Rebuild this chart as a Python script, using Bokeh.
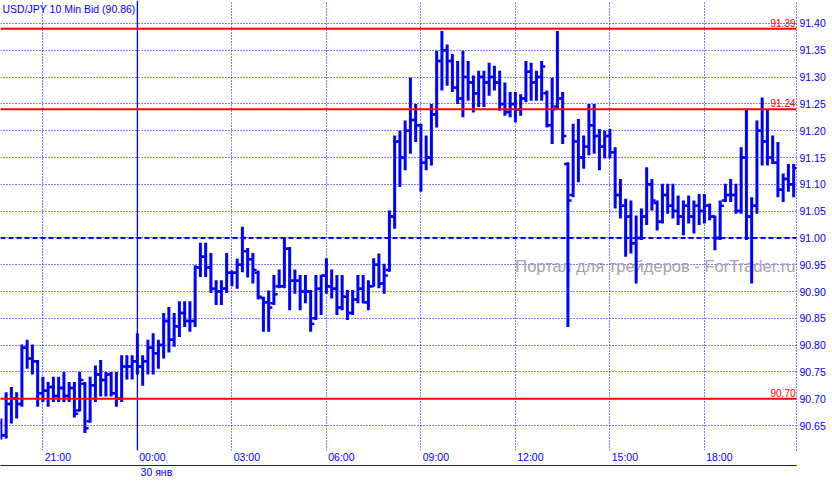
from bokeh.plotting import figure
from bokeh.models import (Range1d, LinearAxis, FixedTicker, Span, Label,
                          ColumnDataSource, NumeralTickFormatter)
from bokeh.transform import dodge
from bokeh.embed import file_html
from bokeh.resources import INLINE

# ---- data: USD/JPY 10-minute bars, 29 Jan 19:40 .. 30 Jan 20:50 ----
highs = [90.663, 90.712, 90.722, 90.712, 90.801, 90.810, 90.801, 90.772, 90.741, 90.731,
         90.741, 90.741, 90.750, 90.731, 90.731, 90.750, 90.731, 90.741, 90.762, 90.772,
         90.750, 90.750, 90.750, 90.781, 90.781, 90.781, 90.822, 90.781, 90.810, 90.822,
         90.810, 90.860, 90.871, 90.860, 90.882, 90.882, 90.882, 90.949, 90.991, 90.991,
         90.972, 90.921, 90.921, 90.972, 90.939, 90.961, 91.021, 90.981, 90.972, 90.939,
         90.890, 90.902, 90.931, 90.941, 90.999, 90.983, 90.941, 90.931, 90.931, 90.903,
         90.931, 90.931, 90.962, 90.941, 90.931, 90.931, 90.903, 90.903, 90.931, 90.931,
         90.921, 90.962, 90.971, 90.952, 91.051, 91.191, 91.200, 91.219, 91.299, 91.250,
         91.213, 91.191, 91.250, 91.349, 91.386, 91.361, 91.343, 91.330, 91.349, 91.330,
         91.303, 91.312, 91.312, 91.327, 91.321, 91.312, 91.290, 91.272, 91.272, 91.268,
         91.330, 91.327, 91.312, 91.330, 91.275, 91.299, 91.386, 91.272, 91.141, 91.213,
         91.222, 91.191, 91.250, 91.250, 91.203, 91.200, 91.203, 91.169, 91.110, 91.073,
         91.070, 91.042, 91.055, 91.132, 91.110, 91.070, 91.101, 91.101, 91.101, 91.079,
         91.070, 91.079, 91.070, 91.082, 91.082, 91.064, 91.042, 91.070, 91.101, 91.110,
         91.101, 91.169, 91.241, 91.076, 91.219, 91.262, 91.241, 91.191, 91.179, 91.120,
         91.138, 91.138]
lows = [90.624, 90.626, 90.654, 90.663, 90.685, 90.756, 90.745, 90.685, 90.694, 90.685,
        90.694, 90.694, 90.694, 90.694, 90.665, 90.676, 90.636, 90.655, 90.694, 90.704,
        90.704, 90.704, 90.685, 90.694, 90.736, 90.736, 90.745, 90.724, 90.745, 90.745,
        90.756, 90.775, 90.786, 90.797, 90.815, 90.834, 90.825, 90.834, 90.927, 90.927,
        90.897, 90.875, 90.875, 90.897, 90.910, 90.905, 90.936, 90.926, 90.915, 90.885,
        90.825, 90.825, 90.875, 90.906, 90.906, 90.865, 90.896, 90.865, 90.878, 90.825,
        90.847, 90.856, 90.896, 90.887, 90.856, 90.865, 90.847, 90.856, 90.878, 90.878,
        90.865, 90.909, 90.906, 90.896, 90.937, 91.017, 91.095, 91.126, 91.157, 91.179,
        91.086, 91.126, 91.135, 91.206, 91.275, 91.284, 91.272, 91.250, 91.225, 91.256,
        91.234, 91.244, 91.244, 91.265, 91.275, 91.237, 91.228, 91.225, 91.216, 91.228,
        91.253, 91.256, 91.256, 91.256, 91.206, 91.175, 91.241, 91.175, 90.834, 91.076,
        91.104, 91.129, 91.154, 91.157, 91.126, 91.148, 91.148, 91.055, 91.036, 90.965,
        90.971, 90.915, 90.996, 91.024, 91.051, 91.014, 91.027, 91.045, 91.036, 91.024,
        91.005, 91.027, 91.008, 91.024, 91.027, 91.033, 90.977, 90.996, 91.067, 91.067,
        91.045, 91.045, 90.996, 90.915, 91.045, 91.135, 91.135, 91.138, 91.076, 91.067,
        91.086, 91.076]
opens = [90.655, 90.632, 90.690, 90.700, 90.690, 90.795, 90.775, 90.770, 90.710, 90.715,
         90.722, 90.705, 90.720, 90.705, 90.720, 90.678, 90.728, 90.658, 90.725, 90.745,
         90.735, 90.745, 90.710, 90.700, 90.760, 90.760, 90.770, 90.760, 90.770, 90.795,
         90.785, 90.800, 90.845, 90.810, 90.835, 90.860, 90.845, 90.845, 90.945, 90.965,
         90.945, 90.905, 90.900, 90.905, 90.935, 90.935, 90.950, 90.975, 90.960, 90.935,
         90.888, 90.880, 90.878, 90.910, 90.910, 90.980, 90.920, 90.920, 90.900, 90.900,
         90.850, 90.905, 90.930, 90.910, 90.905, 90.870, 90.890, 90.860, 90.885, 90.905,
         90.880, 90.910, 90.950, 90.915, 90.940, 91.040, 91.180, 91.150, 91.200, 91.220,
         91.210, 91.140, 91.150, 91.230, 91.330, 91.350, 91.330, 91.280, 91.260, 91.300,
         91.290, 91.270, 91.300, 91.290, 91.300, 91.290, 91.250, 91.235, 91.250, 91.240,
         91.260, 91.310, 91.290, 91.300, 91.270, 91.210, 91.245, 91.260, 91.138, 91.080,
         91.180, 91.150, 91.170, 91.210, 91.190, 91.170, 91.190, 91.160, 91.080, 91.060,
         91.040, 90.990, 91.000, 91.040, 91.100, 91.065, 91.030, 91.080, 91.060, 91.050,
         91.040, 91.060, 91.040, 91.060, 91.050, 91.060, 91.040, 91.000, 91.070, 91.080,
         91.080, 91.050, 91.150, 91.040, 91.060, 91.200, 91.180, 91.150, 91.140, 91.090,
         91.110, 91.100]
closes = [90.632, 90.690, 90.700, 90.690, 90.795, 90.775, 90.770, 90.710, 90.715, 90.722,
          90.705, 90.720, 90.705, 90.720, 90.672, 90.735, 90.645, 90.725, 90.745, 90.735,
          90.745, 90.710, 90.700, 90.760, 90.760, 90.770, 90.760, 90.770, 90.795, 90.785,
          90.800, 90.845, 90.810, 90.835, 90.860, 90.845, 90.845, 90.945, 90.965, 90.945,
          90.905, 90.900, 90.905, 90.935, 90.935, 90.950, 91.000, 90.960, 90.940, 90.890,
          90.880, 90.870, 90.895, 90.910, 90.980, 90.920, 90.920, 90.900, 90.900, 90.840,
          90.905, 90.930, 90.910, 90.905, 90.870, 90.890, 90.860, 90.885, 90.905, 90.880,
          90.910, 90.950, 90.915, 90.930, 91.040, 91.180, 91.150, 91.200, 91.220, 91.210,
          91.140, 91.150, 91.230, 91.330, 91.350, 91.330, 91.280, 91.260, 91.300, 91.290,
          91.270, 91.300, 91.290, 91.300, 91.290, 91.250, 91.235, 91.250, 91.240, 91.260,
          91.310, 91.290, 91.300, 91.320, 91.210, 91.240, 91.260, 91.190, 91.070, 91.180,
          91.150, 91.170, 91.210, 91.190, 91.170, 91.190, 91.160, 91.080, 91.060, 91.040,
          90.990, 91.000, 91.040, 91.100, 91.070, 91.030, 91.080, 91.060, 91.050, 91.040,
          91.060, 91.040, 91.060, 91.050, 91.060, 91.040, 91.000, 91.060, 91.080, 91.080,
          91.050, 91.150, 91.040, 91.060, 91.200, 91.180, 91.150, 91.140, 91.090, 91.110,
          91.100, 91.130]
bar_idx = list(range(len(highs)))

time_tick_idx = [8, 26, 44, 62, 80, 98, 116, 134]
time_tick_labels = ["21:00", "00:00", "03:00", "06:00", "09:00", "12:00", "15:00", "18:00"]
grid_time_idx = [8, 26, 44, 62, 80, 98, 116, 134, 152]
price_ticks = [90.65, 90.70, 90.75, 90.80, 90.85, 90.90, 90.95, 91.00,
               91.05, 91.10, 91.15, 91.20, 91.25, 91.30, 91.35, 91.40]
level_values = [91.39, 91.24, 90.70]
level_labels = ["91.39", "91.24", "90.70"]
pivot_value = 91.00
day_break_idx = 26
day_label = "30 янв"
title_text = "USD/JPY 10 Min Bid (90.86)"
watermark_text = "Портал для трейдеров - ForTrader.ru"

BLUE = "#0000FF"
FONT = "Liberation Sans"

FW, FH = 796, 450
X0, X1 = -0.076, 151.54
Y0, Y1 = 90.6034, 91.4429
px = FW / (X1 - X0)
py = FH / (Y1 - Y0)

p = figure(frame_width=FW, frame_height=FH,
           x_range=Range1d(X0, X1), y_range=Range1d(Y0, Y1),
           output_backend="svg", toolbar_location=None, title=None,
           y_axis_location="right", x_axis_location=None,
           min_border=0, min_border_left=0, min_border_top=0,
           min_border_right=0, min_border_bottom=0)
p.outline_line_color = None
p.background_fill_color = "white"
p.border_fill_color = "white"

# grids
p.xgrid.ticker = FixedTicker(ticks=grid_time_idx)
p.ygrid.ticker = FixedTicker(ticks=price_ticks)
for g in (p.xgrid, p.ygrid):
    g.grid_line_color = BLUE
    g.grid_line_dash = "1 2"
    g.grid_line_width = 1
    g.grid_line_alpha = 1.0

# right price axis
ya = p.yaxis[0]
ya.ticker = FixedTicker(ticks=price_ticks)
ya.formatter = NumeralTickFormatter(format="0.00")
ya.major_tick_line_color = None
ya.major_tick_out = 0
ya.major_tick_in = 0
ya.minor_tick_line_color = None
ya.minor_tick_out = 0
ya.axis_line_color = BLUE
ya.axis_line_dash = "1 2"
ya.major_label_text_color = BLUE
ya.major_label_text_font = FONT
ya.major_label_text_font_size = "10.5px"
ya.major_label_standoff = 3

# bottom time axis (labels placed just right of each grid line)
shiftA = 15.0 / px
a_ticks = [t + shiftA for t in time_tick_idx]
axA = LinearAxis(ticker=FixedTicker(ticks=a_ticks),
                 major_label_overrides={k: v for k, v in zip(a_ticks, time_tick_labels)},
                 axis_line_color=None, major_tick_line_color=None, minor_tick_line_color=None,
                 major_tick_out=0, major_tick_in=0, minor_tick_out=0, minor_tick_in=0,
                 major_label_standoff=0, major_label_text_color=BLUE,
                 major_label_text_font=FONT, major_label_text_font_size="10.5px")
p.add_layout(axA, "below")

shiftB = 19.0 / px
b_ticks = [day_break_idx + shiftB]
axB = LinearAxis(ticker=FixedTicker(ticks=b_ticks),
                 major_label_overrides={b_ticks[0]: day_label},
                 axis_line_color=BLUE, axis_line_width=1,
                 major_tick_line_color=None, minor_tick_line_color=None,
                 major_tick_out=0, major_tick_in=0, minor_tick_out=0, minor_tick_in=0,
                 major_label_standoff=0, major_label_text_color=BLUE,
                 major_label_text_font=FONT, major_label_text_font_size="10.5px")
p.add_layout(axB, "below")

# watermark (under bars)
p.add_layout(Label(x=X0 + 795 / px, y=Y1 - 265 / py, text=watermark_text,
                   text_align="right", text_baseline="alphabetic",
                   text_color="#a8a2a2", text_font=FONT, text_font_size="16.5px",
                   level="underlay"))

# OHLC bars
src = ColumnDataSource(dict(x=bar_idx, open=opens, high=highs, low=lows, close=closes))
p.segment(x0="x", y0="low", x1="x", y1="high", source=src, line_color=BLUE, line_width=3)
p.segment(x0=dodge("x", -0.7), y0="open", x1="x", y1="open", source=src,
          line_color=BLUE, line_width=2.5)
p.segment(x0="x", y0="close", x1=dodge("x", 0.7), y1="close", source=src,
          line_color=BLUE, line_width=2.5)

# day separator and pivot line
p.add_layout(Span(location=day_break_idx, dimension="height", line_color=BLUE, line_width=1.3))
p.add_layout(Span(location=pivot_value, dimension="width", line_color=BLUE,
                  line_width=2, line_dash="5 3"))

# red levels with labels
for v, lab in zip(level_values, level_labels):
    p.add_layout(Span(location=v, dimension="width", line_color="#FF0000", line_width=2))
    p.add_layout(Label(x=X1 - 1 / px, y=v + 2 / py, text=lab, text_align="right",
                       text_baseline="bottom", text_color="#FF0000",
                       text_font=FONT, text_font_size="10px"))

# title
p.add_layout(Label(x=X0 + 2 / px, y=Y1 - 2 / py, text=title_text, text_align="left",
                   text_baseline="top", text_color=BLUE, text_font=FONT,
                   text_font_size="10.5px"))

open("out.html", "w").write(file_html(p, INLINE))
